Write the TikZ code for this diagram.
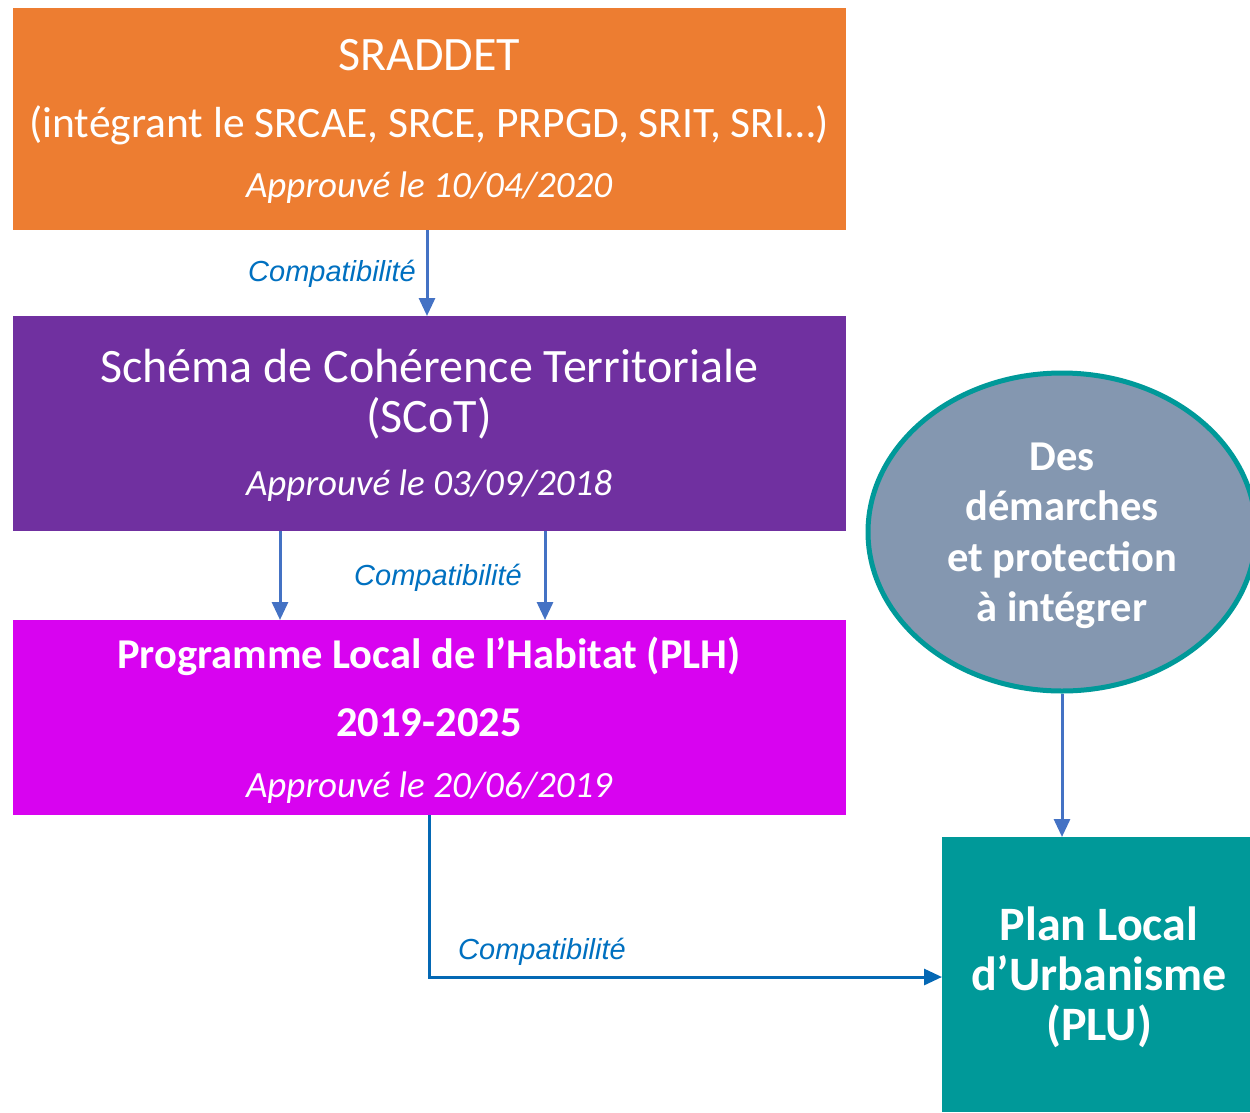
\documentclass[tikz,border=0pt]{standalone}
\usepackage{fontspec}
\setmainfont{Carlito}
\newfontfamily\labelfont{Liberation Sans}
\usetikzlibrary{shapes.geometric,arrows.meta}
\definecolor{cOrange}{HTML}{ED7D31}
\definecolor{cPurple}{HTML}{7030A0}
\definecolor{cMagenta}{HTML}{D803F0}
\definecolor{cTeal}{HTML}{009999}
\definecolor{cEll}{HTML}{8497B0}
\definecolor{cArrow}{HTML}{4472C4}
\definecolor{cArrowB}{HTML}{0468B4}
\definecolor{cLabel}{HTML}{0070C0}
\tikzset{
  box/.style={rectangle, draw=none, inner sep=0pt, anchor=north west},
  txt/.style={anchor=base, inner sep=0pt, text=white},
  big/.style={font=\fontsize{48}{52}\selectfont},
  bigs/.style={font=\fontsize{43.5}{50}\selectfont},
  ital/.style={font=\fontsize{37}{40}\selectfont\itshape},
  bld/.style={font=\fontsize{42.5}{46}\selectfont\bfseries},
  bldL/.style={font=\fontsize{48}{52}\selectfont\bfseries},
  arr/.style={draw=cArrow, line width=3pt, -{Triangle[width=16pt,length=18pt]}},
  arrB/.style={draw=cArrowB, line width=3pt, -{Triangle[width=16pt,length=18pt]}},
  lbl/.style={anchor=base, inner sep=0pt, text=cLabel, font=\labelfont\fontsize{29}{32}\selectfont\itshape},
}
\begin{document}
\begin{tikzpicture}[x=1pt,y=-1pt]
\useasboundingbox (0,0) rectangle (1250,1112);
\clip (0,0) rectangle (1250,1112);
% boxes
\node[box, fill=cOrange, minimum width=833pt, minimum height=222pt] (sraddet) at (13,8) {};
\node[box, fill=cPurple, minimum width=833pt, minimum height=215pt] (scot) at (13,316) {};
\node[box, fill=cMagenta, minimum width=833pt, minimum height=195pt] (plh) at (13,620) {};
\node[box, fill=cTeal, minimum width=308pt, minimum height=275pt] (plu) at (942,837) {};
\node[ellipse, draw=cTeal, line width=5pt, fill=cEll, minimum width=388pt, minimum height=318pt, inner sep=0pt] (des) at (1062,532) {};
% texts SRADDET
\node[txt, big] (t1a) at (429,70) {SRADDET};
\node[txt, bigs] (t1b) at (429,137) {(intégrant le SRCAE, SRCE, PRPGD, SRIT, SRI…)};
\node[txt, ital] (t1c) at (429,197) {Approuvé le 10/04/2020};
% SCoT
\node[txt, big] (t2a) at (429,382) {Schéma de Cohérence Territoriale};
\node[txt, big] (t2b) at (429,432) {(SCoT)};
\node[txt, ital] (t2c) at (429,495) {Approuvé le 03/09/2018};
% PLH
\node[txt, bld] (t3a) at (429,668) {Programme Local de l’Habitat (PLH)};
\node[txt, bld] (t3b) at (429,736) {2019-2025};
\node[txt, ital] (t3c) at (429,797) {Approuvé le 20/06/2019};
% ellipse
\node[txt, bld] (t4a) at (1062,470) {Des};
\node[txt, bld] (t4b) at (1062,520) {démarches};
\node[txt, bld] (t4c) at (1062,571) {et protection};
\node[txt, bld] (t4d) at (1062,621) {à intégrer};
% PLU
\node[txt, bldL] (t5a) at (1099,940) {Plan Local};
\node[txt, bldL] (t5b) at (1099,990) {d’Urbanisme};
\node[txt, bldL] (t5c) at (1099,1040) {(PLU)};
% connectors
\draw[arr] (sraddet.south -| 427,0) -- (scot.north -| 427,0);
\draw[arr] (scot.south -| 280,0) -- (plh.north -| 280,0);
\draw[arr] (scot.south -| 545,0) -- (plh.north -| 545,0);
\draw[arr] (des.south) -- (plu.north -| des.south);
\draw[arrB] (plh.south) |- (plu.west |- 0,977);
% labels
\node[lbl] (l1) at (332,281) {Compatibilité};
\node[lbl] (l2) at (438,585) {Compatibilité};
\node[lbl] (l3) at (542,959) {Compatibilité};
\end{tikzpicture}
\end{document}
